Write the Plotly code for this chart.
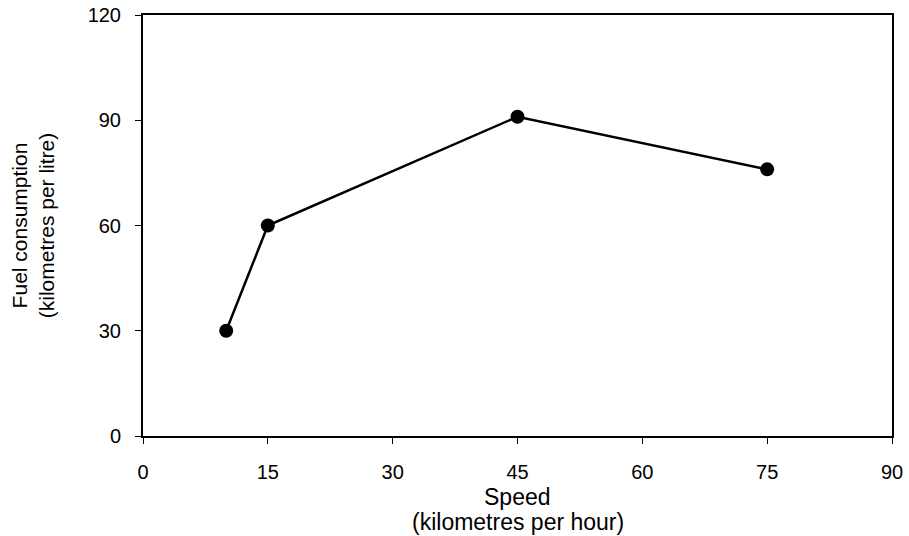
import plotly.graph_objects as go

speed = [10, 15, 45, 75]
fuel = [30, 60, 91, 76]
x_ticks = [0, 15, 30, 45, 60, 75, 90]
y_ticks = [0, 30, 60, 90, 120]
x_title_lines = ["Speed", "(kilometres per hour)"]
y_title = "Fuel consumption<br>(kilometres per litre)"

fig = go.Figure()
fig.add_trace(go.Scatter(
    x=speed, y=fuel, mode="lines+markers",
    line=dict(color="black", width=2.5),
    marker=dict(color="black", size=14),
    showlegend=False, cliponaxis=False,
))

font = dict(family="Liberation Sans, Arial, sans-serif", color="black", size=20)
fig.update_layout(
    width=909, height=536,
    margin=dict(l=143, r=17, t=15, b=100),
    paper_bgcolor="white", plot_bgcolor="white",
    font=font,
)
fig.update_xaxes(
    range=[0, 90], tickvals=x_ticks, showgrid=False, zeroline=False,
    showline=True, linecolor="black", linewidth=2, mirror=True,
    ticks="outside", ticklen=6, tickcolor="black", ticklabelstandoff=11,
    ticklabeloverflow="allow", automargin=False,
)
fig.update_yaxes(
    range=[0, 120], tickvals=y_ticks, showgrid=False, zeroline=False,
    showline=True, linecolor="black", linewidth=2, mirror=True,
    ticks="outside", ticklen=6, tickcolor="black", ticklabelstandoff=10,
    ticklabeloverflow="allow", automargin=False,
    title=dict(text=y_title, standoff=27, font=dict(size=21)),
)
for line, dy in zip(x_title_lines, [61, 86]):
    fig.add_annotation(
        text=line, xref="paper", yref="paper", x=0.5, y=0,
        yshift=-dy, showarrow=False, xanchor="center", yanchor="middle",
        font=dict(size=23),
    )
fig.write_html("out.html", config={"displayModeBar": False},
               post_script="document.body.style.margin='0';")
